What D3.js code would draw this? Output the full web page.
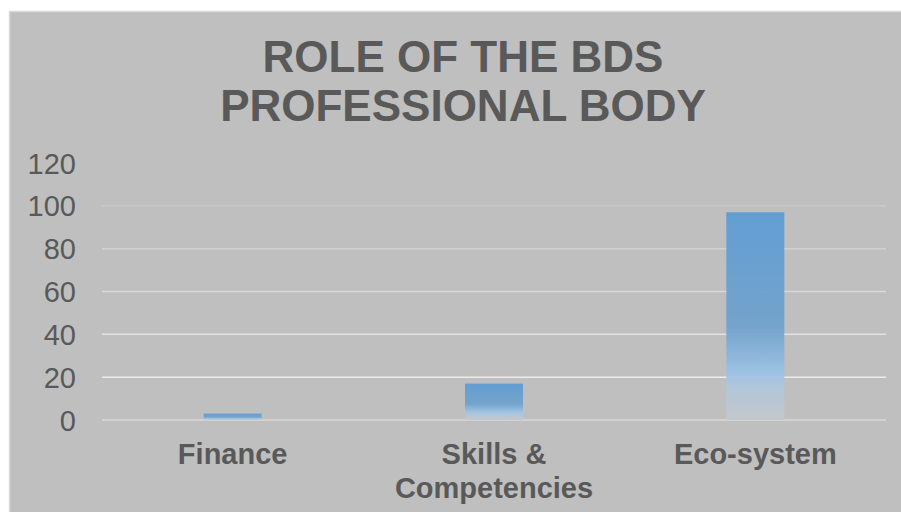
<!DOCTYPE html>
<html>
<head>
<meta charset="utf-8">
<script src="https://cdn.jsdelivr.net/npm/d3@7"></script>
<style>
  html, body { margin: 0; padding: 0; background: #ffffff; }
  svg { display: block; }
</style>
</head>
<body>
<svg id="chart" width="901" height="512"></svg>
<script>
// Chart data
const titleLines = ["ROLE OF THE BDS", "PROFESSIONAL BODY"];
const categories = ["Finance", "Skills & Competencies", "Eco-system"];
const categoryLines = [["Finance"], ["Skills &", "Competencies"], ["Eco-system"]];
const values = [3, 17, 97];
const yTicks = [0, 20, 40, 60, 80, 100, 120];

const svg = d3.select("#chart");
const W = 901, H = 512;

// Chart area panel
svg.append("rect")
  .attr("x", 9.5).attr("y", 11.5)
  .attr("width", W).attr("height", H)
  .attr("fill", "#bfbfbf")
  .attr("stroke", "#d9d9d9")
  .attr("stroke-width", 1.5);

const plot = { left: 102, right: 886, top: 163, bottom: 420 };

const x = d3.scaleBand()
  .domain(categories)
  .range([plot.left, plot.right])
  .paddingInner(0.778)
  .paddingOuter(0.389);

const y = d3.scaleLinear()
  .domain([0, 120])
  .range([plot.bottom, plot.top]);

// Gridline brightness rises toward the baseline
const gridColor = d3.scaleLinear()
  .domain([100, 60, 20])
  .range(["#c9c9c9", "#d8d8d8", "#ececec"]);

// Bar gradient
const defs = svg.append("defs");
const grad = defs.append("linearGradient")
  .attr("id", "barGrad")
  .attr("x1", 0).attr("y1", 0).attr("x2", 0).attr("y2", 1);
[
  [0, "#5b9bd5"],
  [0.55, "#6fa1cc"],
  [0.78, "#9cc3e6"],
  [0.84, "#b0c6dc"],
  [1, "#c4c8cc"]
].forEach(([o, c]) => grad.append("stop").attr("offset", o).attr("stop-color", c));

// Gridlines (none drawn at the top value)
const gridTicks = yTicks.filter(t => t > 0 && t < 120);
svg.append("g")
  .selectAll("line")
  .data(gridTicks)
  .join("line")
  .attr("x1", plot.left).attr("x2", plot.right)
  .attr("y1", d => y(d)).attr("y2", d => y(d))
  .attr("stroke", d => gridColor(d))
  .attr("stroke-width", 1.5);

// Baseline
svg.append("line")
  .attr("x1", plot.left).attr("x2", plot.right)
  .attr("y1", y(0)).attr("y2", y(0))
  .attr("stroke", "#d9d9d9")
  .attr("stroke-width", 1.5);

// Y axis labels
const yAxis = d3.axisLeft(y).tickValues(yTicks).tickSize(0).tickPadding(0);
const yg = svg.append("g")
  .attr("transform", `translate(76,0)`)
  .call(yAxis);
yg.select(".domain").remove();
yg.selectAll("text")
  .attr("font-family", "Liberation Sans, Arial, sans-serif")
  .attr("font-size", 29)
  .attr("fill", "#595959")
  .attr("dy", "0.35em");

// Bars
svg.append("g")
  .selectAll("rect")
  .data(values)
  .join("rect")
  .attr("x", (d, i) => x(categories[i]))
  .attr("width", x.bandwidth())
  .attr("y", d => y(d))
  .attr("height", d => y(0) - y(d))
  .attr("fill", "url(#barGrad)")
  .attr("fill-opacity", 0.93);

// Category labels
const xl = svg.append("g");
categoryLines.forEach((lines, i) => {
  const t = xl.append("text")
    .attr("x", x(categories[i]) + x.bandwidth() / 2)
    .attr("y", 464)
    .attr("text-anchor", "middle")
    .attr("font-family", "Liberation Sans, Arial, sans-serif")
    .attr("font-weight", "bold")
    .attr("font-size", 29)
    .attr("fill", "#595959");
  lines.forEach((ln, j) => {
    t.append("tspan")
      .attr("x", x(categories[i]) + x.bandwidth() / 2)
      .attr("dy", j === 0 ? 0 : 34)
      .text(ln);
  });
});

// Title
const title = svg.append("text")
  .attr("x", 463)
  .attr("y", 72)
  .attr("text-anchor", "middle")
  .attr("font-family", "Liberation Sans, Arial, sans-serif")
  .attr("font-weight", "bold")
  .attr("font-size", 44)
  .attr("fill", "#595959");
titleLines.forEach((ln, j) => {
  title.append("tspan")
    .attr("x", 463)
    .attr("dy", j === 0 ? 0 : 49)
    .text(ln);
});
</script>
</body>
</html>
